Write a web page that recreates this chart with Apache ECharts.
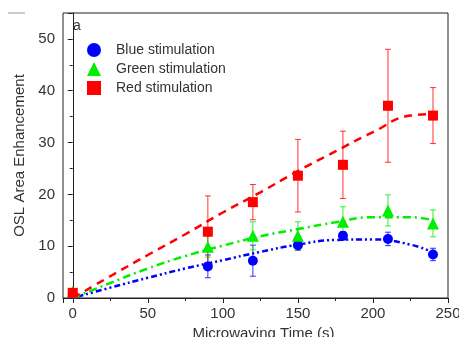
<!DOCTYPE html>
<html>
<head>
<meta charset="utf-8">
<script src="https://cdn.jsdelivr.net/npm/echarts@6/dist/echarts.min.js"></script>
<style>
  html, body { margin: 0; padding: 0; background: #fff; }
  #main { width: 459px; height: 337px; }
</style>
</head>
<body>
<div id="main"></div>
<script>
// measured points
const times = [0, 90, 120, 150, 180, 210, 240];
const blueVals = [0.8, 6.1, 7.2, 10.2, 12.0, 11.4, 8.4];
const blueErr = [0.3, 2.2, 3.0, 1.0, 0.8, 1.3, 1.2];
const greenVals = [1.2, 9.9, 12.0, 12.0, 14.7, 16.9, 14.4];
const greenErr = [0.3, 2.0, 2.7, 2.7, 2.9, 3.0, 2.6];
const redVals = [1.0, 12.8, 18.5, 23.6, 25.7, 37.1, 35.2];
const redErr = [0.3, 6.9, 3.4, 7.0, 6.5, 10.9, 5.4];

// fitted curves
const fitTimes = [0, 25, 50, 75, 100, 125, 150, 175, 200, 225, 240];
const blueFit = [0, 2.0, 3.9, 5.7, 7.3, 8.9, 10.3, 11.2, 11.3, 10.3, 8.8];
const greenFit = [0, 2.9, 5.7, 8.1, 10.1, 11.9, 13.3, 14.6, 15.6, 15.6, 15.0];
const redFit = [0, 4.2, 8.3, 12.3, 16.5, 20.4, 24.5, 28.3, 32.0, 35.2, 35.5];

const names = ['Blue stimulation', 'Green stimulation', 'Red stimulation'];
const colors = ['#0000ff', '#00ee00', '#ff0000'];

const chart = echarts.init(document.getElementById('main'));
const font = 'Liberation Sans, Arial, sans-serif';

const pairs = (xs, ys) => xs.map((x, i) => [x, ys[i]]);

const errSeries = (vals, errs, color) => ({
  type: 'custom',
  silent: true,
  z: 3,
  data: times.map((t, i) => [t, vals[i] - errs[i], vals[i] + errs[i]]),
  renderItem: (params, api) => {
    const lo = api.coord([api.value(0), api.value(1)]);
    const hi = api.coord([api.value(0), api.value(2)]);
    const cap = 3;
    const style = { stroke: color, lineWidth: 1, opacity: 0.8 };
    return {
      type: 'group',
      children: [
        { type: 'line', shape: { x1: lo[0], y1: lo[1], x2: hi[0], y2: hi[1] }, style },
        { type: 'line', shape: { x1: lo[0] - cap, y1: lo[1], x2: lo[0] + cap, y2: lo[1] }, style },
        { type: 'line', shape: { x1: hi[0] - cap, y1: hi[1], x2: hi[0] + cap, y2: hi[1] }, style },
      ],
    };
  },
});

const fitSeries = (ys, color, dash) => ({
  type: 'line',
  smooth: true,
  showSymbol: false,
  silent: true,
  z: 2,
  data: pairs(fitTimes, ys),
  lineStyle: { color, width: 2.5, type: dash },
});

const pointSeries = (name, vals, color, symbol, size) => ({
  name,
  type: 'scatter',
  symbol,
  symbolSize: size,
  z: 4,
  itemStyle: { color, opacity: 1 },
  data: pairs(times, vals),
});

chart.setOption({
  animation: false,
  grid: {
    left: 63, right: 11, top: 13, bottom: 39,
    containLabel: false,
    outerBoundsMode: 'none',
    show: true, borderColor: '#222', borderWidth: 1,
  },
  legend: {
    orient: 'vertical',
    left: 82,
    top: 38,
    itemWidth: 14,
    itemHeight: 14,
    itemGap: 5,
    data: [
      { name: names[0], icon: 'circle' },
      { name: names[1], icon: 'triangle' },
      { name: names[2], icon: 'path://M0,0h12v12h-12z' },
    ],
    textStyle: { fontFamily: font, fontSize: 14, color: '#333', padding: [0, 0, 0, 10] },
  },
  graphic: [
    { type: 'text', left: 73, top: 19, style: { text: 'a', font: '14px ' + font, fill: '#333' } },
    { type: 'line', shape: { x1: 8, y1: 13, x2: 25, y2: 13 }, style: { stroke: '#999', lineWidth: 1 } },
  ],
  xAxis: {
    type: 'value',
    min: -6.5,
    max: 250,
    splitNumber: 5,
    name: 'Microwaving Time (s)',
    nameLocation: 'middle',
    nameGap: 28,
    nameTextStyle: { fontFamily: font, fontSize: 15, color: '#333', padding: [0, 0, 0, 16] },
    axisLine: { onZero: false, lineStyle: { color: '#222', width: 1 } },
    axisTick: { length: 5, lineStyle: { color: '#222' } },
    minorTick: { show: true, splitNumber: 2, length: 3, lineStyle: { color: '#222' } },
    axisLabel: { showMinLabel: false, fontFamily: font, fontSize: 15, color: '#333', margin: 8 },
    splitLine: { show: false },
  },
  yAxis: {
    type: 'value',
    min: 0,
    max: 55,
    interval: 10,
    name: 'OSL Area Enhancement',
    nameLocation: 'middle',
    nameGap: 34,
    nameTextStyle: { fontFamily: font, fontSize: 15, color: '#333' },
    axisLine: { show: true, lineStyle: { color: '#222', width: 1 } },
    axisTick: { show: true, length: 5, lineStyle: { color: '#222' } },
    minorTick: { show: true, splitNumber: 2, length: 3, lineStyle: { color: '#222' } },
    axisLabel: { showMaxLabel: false, fontFamily: font, fontSize: 15, color: '#333', margin: 8 },
    splitLine: { show: false },
  },
  series: [
    fitSeries(blueFit, colors[0], [2, 3, 6, 3, 2, 3]),
    fitSeries(greenFit, colors[1], [8, 4, 2, 4]),
    fitSeries(redFit, colors[2], [8, 6]),
    errSeries(blueVals, blueErr, colors[0]),
    errSeries(greenVals, greenErr, colors[1]),
    errSeries(redVals, redErr, colors[2]),
    pointSeries(names[0], blueVals, colors[0], 'circle', 10),
    pointSeries(names[1], greenVals, colors[1], 'triangle', 12),
    pointSeries(names[2], redVals, colors[2], 'rect', 10),
  ],
});
</script>
</body>
</html>
